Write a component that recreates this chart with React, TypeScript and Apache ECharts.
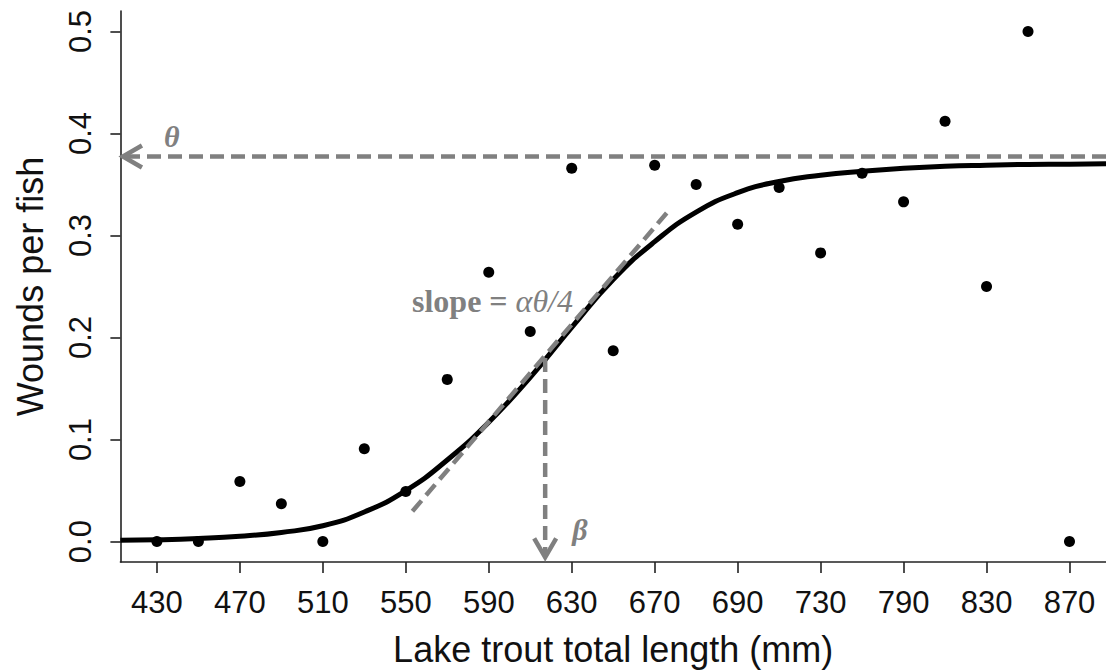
import React, { useEffect, useRef } from "react";
import * as echarts from "echarts";

// Tick labels shown under every other point (lake trout total length, mm)
const tickLabels = ["430", "470", "510", "550", "590", "630", "670", "690", "730", "790", "830", "870"];
const tickPositions = [0, 2, 4, 6, 8, 10, 12, 14, 16, 18, 20, 22];

// Observed wounds per fish, one value per length class (index 0..22)
const woundsPerFish = [
  0, 0, 0.059, 0.037, 0, 0.091, 0.049, 0.159, 0.264, 0.206, 0.366, 0.187,
  0.369, 0.35, 0.311, 0.347, 0.283, 0.361, 0.333, 0.412, 0.25, 0.5, 0,
];

// Fitted logistic curve at each class position
const curveIndex = [-0.88, 0, 1, 2, 3, 4, 5, 6, 7, 8, 9, 10, 11, 12, 13, 14, 15, 16, 17, 18, 19, 20, 21, 22, 22.88];
const curveValue = [
  0.0012, 0.0017, 0.003, 0.0052, 0.009, 0.0155, 0.029, 0.05, 0.08, 0.117, 0.161,
  0.21, 0.257, 0.294, 0.323, 0.342, 0.353, 0.359, 0.363, 0.366, 0.368, 0.369,
  0.3697, 0.37, 0.3703,
];

const yTicks = [0, 0.1, 0.2, 0.3, 0.4, 0.5];

// Annotation anchors (data coordinates)
const thetaLevel = 0.3775;
const thetaArrowFrom = 22.88;
const thetaArrowTo = -0.82;
const betaIndex = 9.36;
const betaFromValue = 0.18;
const betaToValue = -0.0154;
const tangentStart = [6.16, 0.0297];
const tangentEnd = [12.35, 0.325];
const thetaLabelAt = [0.36, 0.397];
const betaLabelAt = [10.2, 0.012];
const slopeLabelAt = [6.15, 0.236];

const SANS = '"Liberation Sans", Arial, sans-serif';
const SERIF = '"Liberation Serif", "Times New Roman", serif';
const GRAY = "#808080";

export default function App() {
  const ref = useRef<HTMLDivElement>(null);

  useEffect(() => {
    if (!ref.current) return;
    const chart = echarts.init(ref.current, undefined, { renderer: "svg" });

    const renderAnnotations = (_params: any, api: any) => {
      const c = (x: number, y: number) => api.coord([x, y]);
      const dash = { stroke: GRAY, lineWidth: 4.5, lineDash: [14, 7], fill: null };
      const solid = { stroke: GRAY, lineWidth: 4.5, fill: null };
      const L = 22;
      const head = (tip: number[], dx: number, dy: number) => {
        const ang = Math.atan2(dy, dx);
        const a1 = ang + Math.PI / 6;
        const a2 = ang - Math.PI / 6;
        return [
          [tip[0] - L * Math.cos(a1), tip[1] - L * Math.sin(a1)],
          [tip[0], tip[1]],
          [tip[0] - L * Math.cos(a2), tip[1] - L * Math.sin(a2)],
        ];
      };
      const tStart = c(thetaArrowFrom, thetaLevel);
      const tEnd = c(thetaArrowTo, thetaLevel);
      const bStart = c(betaIndex, betaFromValue);
      const bEnd = c(betaIndex, betaToValue);
      const g0 = c(tangentStart[0], tangentStart[1]);
      const g1 = c(tangentEnd[0], tangentEnd[1]);
      const thP = c(thetaLabelAt[0], thetaLabelAt[1]);
      const beP = c(betaLabelAt[0], betaLabelAt[1]);
      const slP = c(slopeLabelAt[0], slopeLabelAt[1]);
      return {
        type: "group",
        children: [
          { type: "line", shape: { x1: tStart[0], y1: tStart[1], x2: tEnd[0] + 2, y2: tEnd[1] }, style: dash },
          { type: "polyline", shape: { points: head(tEnd, tEnd[0] - tStart[0], 0) }, style: solid },
          { type: "line", shape: { x1: bStart[0], y1: bStart[1], x2: bEnd[0], y2: bEnd[1] - 2 }, style: dash },
          { type: "polyline", shape: { points: head(bEnd, 0, bEnd[1] - bStart[1]) }, style: solid },
          { type: "line", shape: { x1: g0[0], y1: g0[1], x2: g1[0], y2: g1[1] }, style: dash },
          {
            type: "text",
            style: {
              text: "θ", x: thP[0], y: thP[1], fill: GRAY,
              font: `italic bold 30px ${SERIF}`, align: "center", verticalAlign: "middle",
            },
          },
          {
            type: "text",
            style: {
              text: "β", x: beP[0], y: beP[1], fill: GRAY,
              font: `italic bold 30px ${SERIF}`, align: "center", verticalAlign: "middle",
            },
          },
          {
            type: "text",
            style: {
              text: "{b|slope = }{i|αθ/4}", x: slP[0], y: slP[1],
              align: "left", verticalAlign: "middle",
              rich: {
                b: { fontFamily: SERIF, fontSize: 32, fontWeight: "bold", fill: GRAY },
                i: { fontFamily: SERIF, fontSize: 32, fontStyle: "italic", fill: GRAY },
              },
            },
          },
        ],
      };
    };

    chart.setOption({
      animation: false,
      backgroundColor: "#ffffff",
      grid: { left: 120.4, top: 11.1, width: 987.2, height: 551.6, containLabel: false },
      xAxis: {
        type: "value",
        min: -0.88,
        max: 22.88,
        axisLine: { show: true, onZero: false, lineStyle: { color: "#222", width: 1.6 } },
        axisTick: { show: true, customValues: tickPositions, length: 11, lineStyle: { color: "#222", width: 1.6 } },
        axisLabel: {
          customValues: tickPositions,
          formatter: (v: number) => tickLabels[Math.round(v / 2)] ?? "",
          fontSize: 31,
          fontFamily: SANS,
          color: "#111",
          margin: 25,
        },
        splitLine: { show: false },
        name: "Lake trout total length (mm)",
        nameLocation: "middle",
        nameGap: 69,
        nameTextStyle: { fontSize: 36, fontFamily: SANS, color: "#111" },
      },
      yAxis: {
        type: "value",
        min: -0.02,
        max: 0.52,
        axisLine: { show: true, onZero: false, lineStyle: { color: "#222", width: 1.6 } },
        axisTick: { show: true, customValues: yTicks, length: 10, lineStyle: { color: "#222", width: 1.6 } },
        axisLabel: {
          customValues: yTicks,
          formatter: (v: number) => v.toFixed(1),
          fontSize: 31,
          fontFamily: SANS,
          color: "#111",
          rotate: 90,
          margin: 24,
        },
        splitLine: { show: false },
        name: "Wounds per fish",
        nameLocation: "middle",
        nameRotate: 90,
        nameGap: 72,
        nameTextStyle: { fontSize: 36, fontFamily: SANS, color: "#111" },
      },
      series: [
        {
          type: "line",
          data: curveIndex.map((x, i) => [x, curveValue[i]]),
          smooth: 0.5,
          showSymbol: false,
          symbol: "none",
          lineStyle: { color: "#000", width: 5 },
          z: 3,
          silent: true,
        },
        {
          type: "scatter",
          data: woundsPerFish.map((v, i) => [i, v]),
          symbol: "circle",
          symbolSize: 11,
          itemStyle: { color: "#000", opacity: 1 },
          z: 4,
          silent: true,
        },
        {
          type: "custom",
          data: [[0, 0]],
          renderItem: renderAnnotations,
          clip: false,
          z: 5,
          silent: true,
        },
      ],
    });

    return () => chart.dispose();
  }, []);

  return (
    <div
      ref={ref}
      style={{ position: "fixed", left: 0, top: 0, width: 1106, height: 672, background: "#fff" }}
    />
  );
}
